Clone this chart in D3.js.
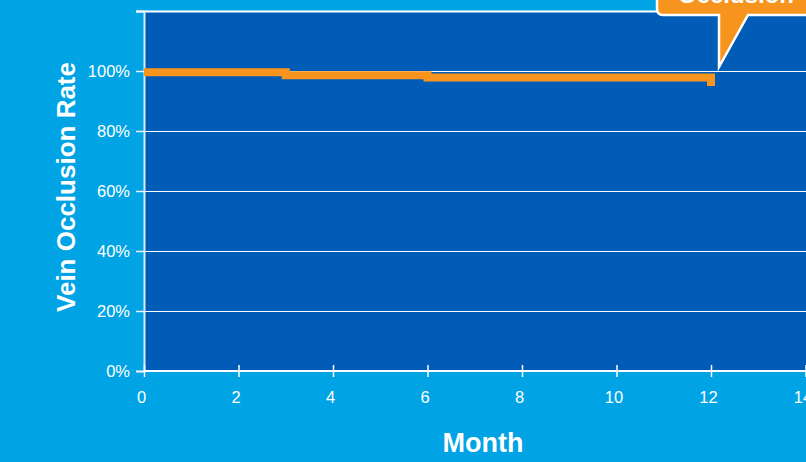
<!DOCTYPE html>
<html>
<head>
<meta charset="utf-8">
<script src="https://cdn.jsdelivr.net/npm/d3@7"></script>
<style>
  html, body { margin: 0; padding: 0; background: #00a3e4; overflow: hidden; }
  svg { display: block; font-family: "Liberation Sans", Arial, sans-serif; }
</style>
</head>
<body>
<div id="chart"></div>
<script>
// Kaplan-Meier style occlusion curve
const months = [0, 3, 6, 12];
const rates = [99.6, 98.6, 97.8, 95.0];
const xTicks = [0, 2, 4, 6, 8, 10, 12, 14];
const yTicks = [0, 20, 40, 60, 80, 100, 120];
const yLabels = ["0%", "20%", "40%", "60%", "80%", "100%", ""];
const calloutText = "Occlusion";

const W = 806, H = 462;
const margin = { top: 11, right: 0, bottom: 91, left: 144 };

const svg = d3.select("#chart").append("svg").attr("width", W).attr("height", H);

const x = d3.scaleLinear().domain([0, 14]).range([margin.left, 805.5]);
const y = d3.scaleLinear().domain([0, 120]).range([H - margin.bottom, margin.top]);

// plot background
svg.append("rect")
    .attr("x", x(0)).attr("y", y(120))
    .attr("width", W - x(0) + 2).attr("height", y(0) - y(120))
    .attr("fill", "#005cb6");

// gridlines
svg.append("g").selectAll("line")
    .data(yTicks.filter(d => d > 0))
    .enter().append("line")
    .attr("x1", x(0) - 8).attr("x2", W)
    .attr("y1", d => y(d) + 0.5).attr("y2", d => y(d) + 0.5)
    .attr("stroke", "#ffffff").attr("stroke-width", d => d === 120 ? 2 : 1.2);

// y axis
const yAxis = svg.append("g").attr("transform", `translate(${x(0)},0)`)
    .call(d3.axisLeft(y).tickValues(yTicks).tickSize(8).tickPadding(6)
        .tickFormat((d, i) => yLabels[i]));
yAxis.select(".domain").attr("stroke", "#d9ecf8").attr("stroke-width", 2);
yAxis.selectAll(".tick line").attr("stroke", "#e8f3fb").attr("stroke-width", 1.5);
yAxis.selectAll("text").attr("fill", "#ffffff").attr("font-size", 16.5)
    .attr("font-family", "Liberation Sans, Arial, sans-serif");

// x axis
const xAxis = svg.append("g").attr("transform", `translate(0,${y(0)})`)
    .call(d3.axisBottom(x).tickValues(xTicks).tickSize(6).tickPadding(14));
xAxis.select(".domain").attr("stroke", "#ffffff").attr("stroke-width", 2)
    .attr("d", `M${x(0)},0H${W}`);
xAxis.selectAll(".tick line").attr("stroke", "#ffffff").attr("stroke-width", 1.5)
    .attr("y1", -6).attr("y2", 6);
xAxis.selectAll("text").attr("fill", "#ffffff").attr("font-size", 16.5)
    .attr("dx", -3)
    .attr("font-family", "Liberation Sans, Arial, sans-serif");

// step line
const pts = months.map((m, i) => [m, rates[i]]);
const line = d3.line().x(d => x(d[0])).y(d => y(d[1])).curve(d3.curveStepAfter);
svg.append("path").datum(pts)
    .attr("d", line)
    .attr("fill", "none")
    .attr("stroke", "#f7941d")
    .attr("stroke-width", 8)
    .attr("stroke-linejoin", "miter")
    .attr("stroke-linecap", "butt");

// callout bubble
const bx = 657, by = -40, bw = 170, bh = 55, r = 6;
const tipX = 719, tipY = 67;
const bubble = `M${bx + r},${by} H${bx + bw} V${by + bh} H748 L${tipX},${tipY} L${tipX},${by + bh} H${bx + r} Q${bx},${by + bh} ${bx},${by + bh - r} V${by} Z`;
svg.append("path").attr("d", bubble)
    .attr("fill", "#f7941d").attr("stroke", "#ffffff").attr("stroke-width", 2.5)
    .attr("stroke-linejoin", "miter");
svg.append("text")
    .attr("x", 678).attr("y", 3)
    .attr("fill", "#ffffff").attr("font-weight", "bold").attr("font-size", 24)
    .text(calloutText);

// axis titles
svg.append("text")
    .attr("transform", `translate(75,187) rotate(-90)`)
    .attr("text-anchor", "middle")
    .attr("fill", "#ffffff").attr("font-weight", "bold").attr("font-size", 26)
    .text("Vein Occlusion Rate");
svg.append("text")
    .attr("x", 483).attr("y", 452)
    .attr("text-anchor", "middle")
    .attr("fill", "#ffffff").attr("font-weight", "bold").attr("font-size", 27)
    .text("Month");
</script>
</body>
</html>
